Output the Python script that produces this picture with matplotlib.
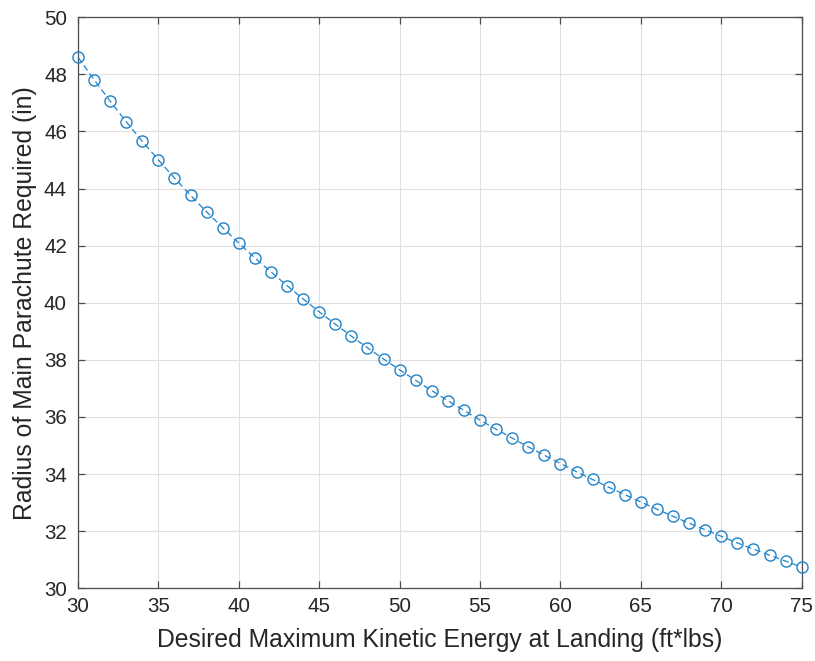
import matplotlib.pyplot as plt

energy = list(range(30, 76))
radius = [48.60, 47.81, 47.06, 46.34, 45.65, 45.00, 44.37, 43.76, 43.18, 42.63,
          42.09, 41.57, 41.08, 40.60, 40.13, 39.68, 39.25, 38.83, 38.42, 38.03,
          37.65, 37.28, 36.92, 36.57, 36.23, 35.89, 35.57, 35.26, 34.95, 34.66,
          34.37, 34.08, 33.81, 33.54, 33.28, 33.02, 32.77, 32.52, 32.28, 32.05,
          31.82, 31.59, 31.37, 31.16, 30.95, 30.74]

xticks = list(range(30, 80, 5))
yticks = list(range(30, 52, 2))

plt.rcParams['font.family'] = ['Liberation Sans', 'DejaVu Sans']
fig = plt.figure(figsize=(8.15, 6.61), dpi=100)
ax = fig.add_axes([0.0957, 0.110, 0.888, 0.864])

ax.plot(energy, radius, linestyle='--', color='#1f82c8', linewidth=0.9,
        marker='o', markersize=8, markerfacecolor='none', markeredgewidth=1.0,
        dashes=(5, 3), clip_on=False, zorder=3)

ax.set_xlim(30, 75)
ax.set_ylim(30, 50)
ax.set_xticks(xticks)
ax.set_yticks(yticks)
ax.grid(True, color='#dfdfdf', linewidth=0.8)
ax.set_axisbelow(True)

gray = '#262626'
for s in ax.spines.values():
    s.set_color('#4d4d4d')
    s.set_linewidth(0.9)
ax.tick_params(direction='in', length=5, width=0.9, colors='#4d4d4d',
               labelcolor=gray, labelsize=14.8, top=True, right=True)
ax.tick_params(axis='x', pad=6)
ax.tick_params(axis='y', pad=8)
ax.set_xlabel('Desired Maximum Kinetic Energy at Landing (ft*lbs)', fontsize=17.8,
              color=gray, labelpad=9)
ax.set_ylabel('Radius of Main Parachute Required (in)', fontsize=17.8,
              color=gray, labelpad=5)

fig.savefig('out.png', dpi=100)
